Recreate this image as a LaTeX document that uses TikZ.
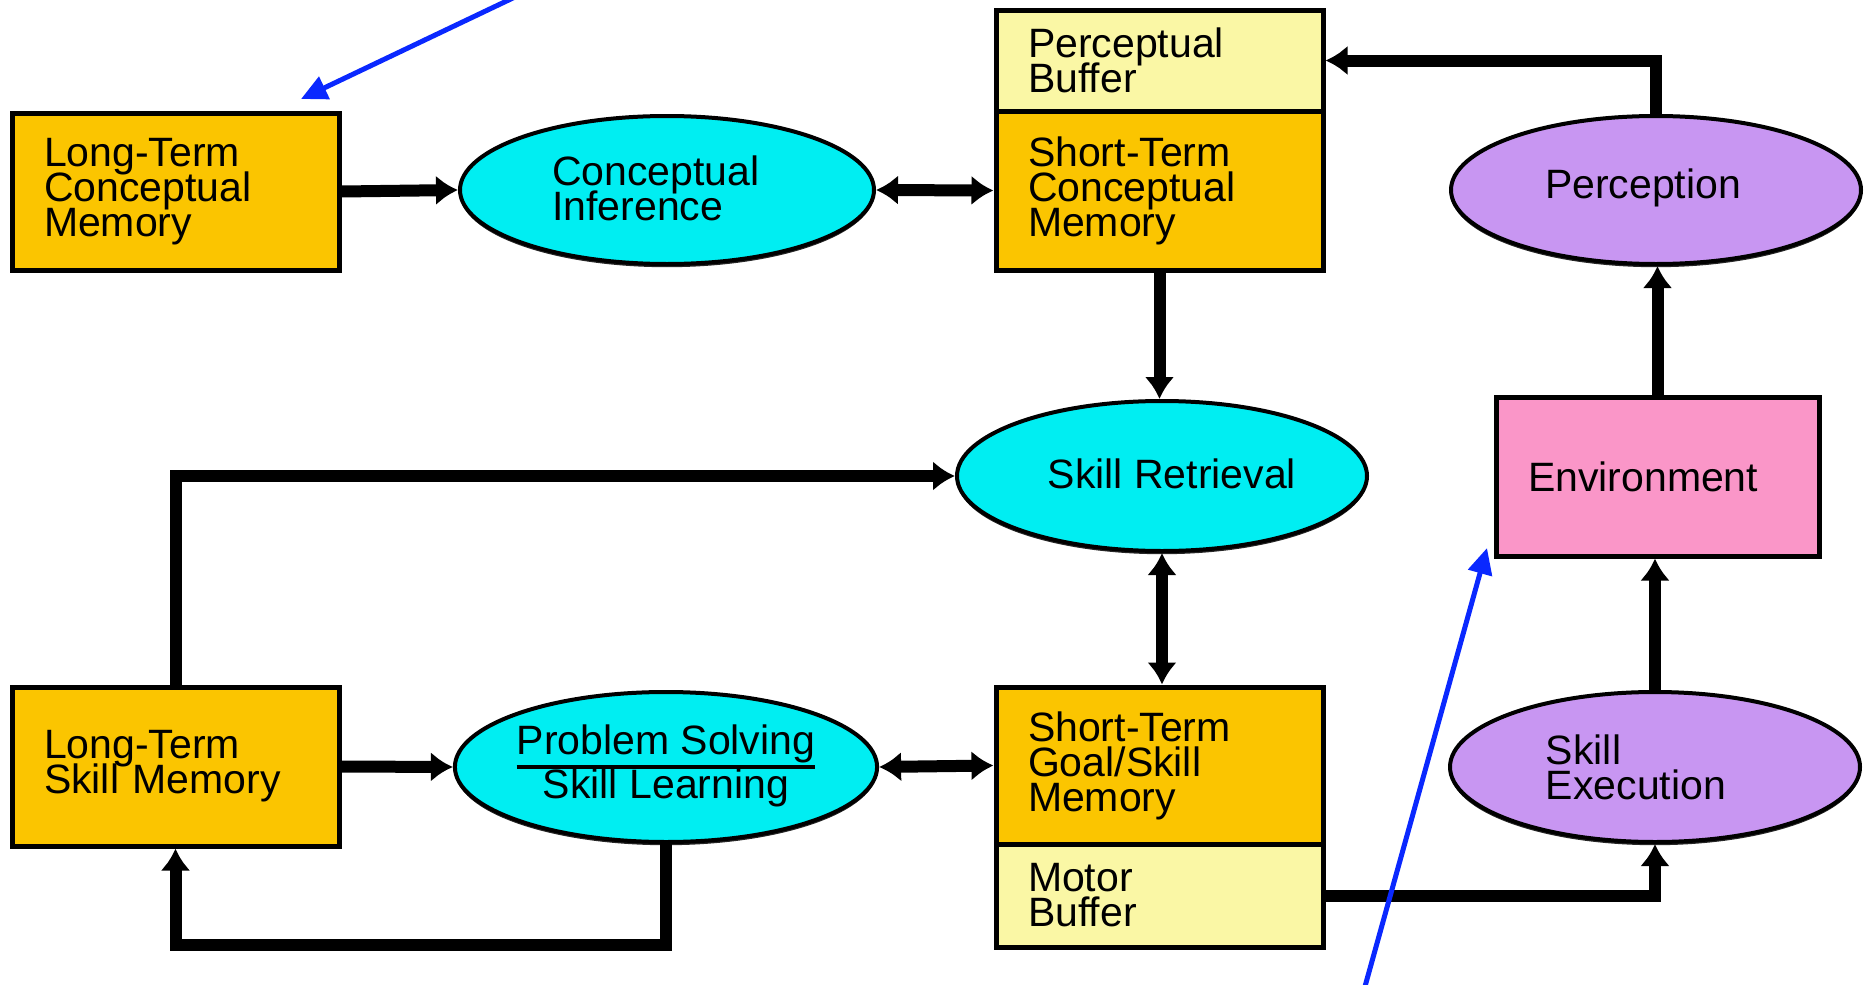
\documentclass[tikz,border=0pt]{standalone}
\usepackage{fontspec}
\setmainfont{Liberation Sans}
\usetikzlibrary{arrows.meta,shapes.geometric,shadows}
\definecolor{orng}{RGB}{251,197,0}
\definecolor{lyel}{RGB}{250,247,165}
\definecolor{cyn}{RGB}{0,238,242}
\definecolor{purp}{RGB}{200,150,242}
\definecolor{pnk}{RGB}{250,150,200}
\definecolor{blu}{RGB}{10,40,255}
\newcommand{\dgfont}{\fontsize{20.5pt}{17.5pt}\selectfont\lineskiplimit=-30pt\relax}
\begin{document}
\begin{tikzpicture}[x=0.5pt,y=-0.5pt,
  txt/.style={font=\dgfont, execute at begin node=\dgfont, align=left, inner sep=0pt},
  shad/.style={drop shadow={shadow xshift=0pt, shadow yshift=-1.6pt, fill=black, opacity=0.85}},
  box/.style={txt, draw=black, line width=2.5pt, rectangle, inner xsep=16pt, inner ysep=0pt, shad},
  membox/.style={box, fill=orng, text width=131.5pt, minimum height=#1},
  bufbox/.style={box, fill=lyel, text width=131.5pt, minimum height=#1},
  oval/.style={draw=black, line width=2pt, ellipse, inner sep=0pt, minimum width=205pt, minimum height=75pt, shad},
  cyoval/.style={oval, fill=cyn},
  puoval/.style={oval, fill=purp},
  conn/.style={line width=6pt, -{Latex[length=11pt,width=15pt]}},
  bconn/.style={line width=6pt, {Latex[length=11pt,width=15pt]}-{Latex[length=11pt,width=15pt]}},
  bluearrow/.style={draw=blu, line width=2.5pt, -{Triangle[length=13pt,width=12pt]}}
]
\useasboundingbox (0,0) rectangle (1864,985);
% boxes
\node[membox=78.5pt] (ltcm) at (175.5,191.5) {Long-Term\\Conceptual\\Memory};
\node[bufbox=50.5pt] (pb) at (1159.5,60.5) {Perceptual\\Buffer};
\node[membox=79.5pt] (stcm) at (1159.5,190.5) {Short-Term\\Conceptual\\Memory};
\node[box, fill=pnk, text width=129.5pt, minimum height=79.5pt] (env) at (1657.5,476.5) {Environment};
\node[membox=79.5pt] (ltsm) at (175.5,766.5) {Long-Term\\Skill Memory};
\node[membox=78.5pt] (stgsm) at (1159.5,765.5) {Short-Term\\Goal/Skill\\Memory};
\node[bufbox=51.5pt] (mb) at (1159.5,895.5) {Motor\\Buffer};
% ellipses
\node[cyoval, minimum width=207pt, minimum height=74pt] (ci) at (667,190) {};
\node[txt] (ci-t) at (656,188) {Conceptual\\Inference};
\node[puoval, minimum height=74pt] (perc) at (1656,190) {};
\node[txt] (perc-t) at (1643,188) {Perception};
\node[cyoval] (sr) at (1162,476) {};
\node[txt] (sr-t) at (1172,474) {Skill Retrieval};
\node[cyoval, font=\dgfont] (ps) at (666,767) {{\setlength{\arrayrulewidth}{2pt}\begin{tabular}{@{}c@{}}Problem Solving\\\hline Skill Learning\end{tabular}}};
\node[puoval] (se) at (1655,767) {};
\node[txt] (se-t) at (1636,767) {Skill\\Execution};
% connectors
\draw[conn] (ltcm.east) -- (ci.west);
\draw[bconn] (ci.east) -- (stcm.west);
\draw[conn] (perc.north) |- (pb.east);
\draw[conn] (env.north) -- (env.north |- perc.south);
\draw[conn] (se.north) -- (se.north |- env.south);
\draw[conn] (mb.east) -| (se.south);
\draw[conn] (stcm.south) -- (stcm.south |- sr.north);
\draw[bconn] (sr.south) -- (sr.south |- stgsm.north);
\draw[conn] (ltsm.north) |- (sr.west);
\draw[conn] (ltsm.east) -- (ps.west);
\draw[bconn] (ps.east) -- (stgsm.west);
\draw[conn] (ps.south) -- ++(0,101) -| (ltsm.south);
% blue pointers
\coordinate (b1s) at (515,-3);
\coordinate (b1e) at (301,99);
\coordinate (b2s) at (1364,990);
\coordinate (b2e) at (1487,548);
\draw[bluearrow] (b1s) -- (b1e);
\draw[bluearrow] (b2s) -- (b2e);
\end{tikzpicture}
\end{document}
